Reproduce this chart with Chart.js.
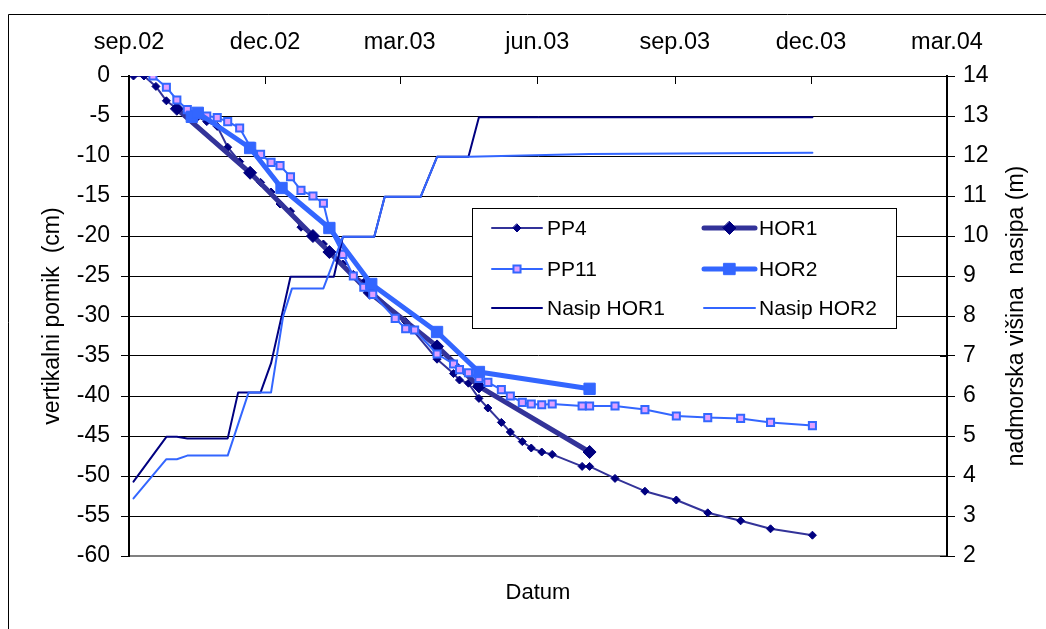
<!DOCTYPE html>
<html><head><meta charset="utf-8">
<script src="https://cdn.jsdelivr.net/npm/chart.js@4.4.1/dist/chart.umd.min.js"></script>
<style>html,body{margin:0;padding:0;background:#fff}canvas{display:block}</style>
</head><body>
<canvas id="c" width="1046" height="629"></canvas>
<script>
// Dates are expressed as days since 1 Sep 2002
const tickDays = [0, 91, 181, 273, 365, 456, 547];
const tickLabels = ['sep.02', 'dec.02', 'mar.03', 'jun.03', 'sep.03', 'dec.03', 'mar.04'];

const pp4Days = [3,10,18,25,32,39,46,52,59,66,74,81,88,95,101,108,115,123,130,134,143,150,157,163,185,206,217,221,227,234,240,249,255,263,269,276,283,303,308,325,345,366,387,409,429,457];
const pp4Values = [0,0,-1.3,-3.1,-4.1,-4.7,-5.1,-5.7,-6.3,-8.9,-10.7,-12.1,-13.3,-14.5,-16.0,-16.9,-18.9,-20.0,-21.0,-22.0,-23.5,-24.8,-25.8,-27.0,-30.7,-35.4,-37.2,-38.0,-38.4,-40.3,-41.5,-43.3,-44.5,-45.7,-46.5,-47.0,-47.3,-48.8,-48.8,-50.3,-51.9,-53.0,-54.6,-55.6,-56.6,-57.4];

const hor1Days = [32,81,123,134,161,206,234,308];
const hor1Values = [-4.1,-12.1,-20.0,-22.0,-27.1,-33.8,-38.8,-47.0];

const pp11Days = [16,25,32,39,46,52,59,66,74,81,88,95,101,108,115,123,130,134,143,150,157,163,178,185,191,206,217,221,227,234,240,249,255,263,269,276,283,303,308,325,345,366,387,409,429,457];
const pp11Values = [0,-1.4,-3.0,-4.2,-4.6,-5.0,-5.2,-5.7,-6.5,-8.8,-9.8,-10.8,-11.2,-12.6,-14.3,-15.0,-15.9,-19.0,-22.3,-25.0,-26.4,-27.3,-30.3,-31.6,-31.75,-34.75,-36.0,-36.7,-37.1,-37.8,-38.3,-39.2,-40.0,-40.8,-41.0,-41.1,-41.0,-41.25,-41.25,-41.25,-41.7,-42.5,-42.7,-42.8,-43.3,-43.7];

const hor2Days = [42,46,81,102,134,162,206,234,308];
const hor2Values = [-5.1,-4.6,-9.0,-14.0,-19.0,-26.0,-32.0,-37.0,-39.1];

const nasip1Days = [3,25,32,39,66,73,88,95,108,137,143,164,171,195,206,227,234,457];
const nasip1Values = [3.86,4.98,4.98,4.94,4.94,6.09,6.09,6.82,8.98,8.98,9.98,9.98,10.98,10.98,11.98,11.98,12.97,12.97];

const nasip2Days = [3,25,32,39,66,80,95,103,109,130,143,164,171,195,206,227,308,457];
const nasip2Values = [3.44,4.42,4.42,4.51,4.51,6.09,6.09,7.98,8.69,8.69,9.98,9.98,10.98,10.98,11.98,11.98,12.05,12.08];

const seriesNames = ['PP4', 'HOR1', 'PP11', 'HOR2', 'Nasip HOR1', 'Nasip HOR2'];

function pts(days, vals) { return days.map((d, i) => ({x: d, y: vals[i]})); }

const FONT = '"Liberation Sans", Arial, sans-serif';
Chart.defaults.font.family = FONT;
Chart.defaults.color = '#000';

function marker(ctx, style, r, x, y, fill, stroke, bw) {
  ctx.save();
  ctx.beginPath();
  if (style === 'rectRot') {
    ctx.moveTo(x, y - r); ctx.lineTo(x + r, y); ctx.lineTo(x, y + r); ctx.lineTo(x - r, y); ctx.closePath();
  } else {
    const s = r * Math.SQRT1_2;
    ctx.rect(x - s, y - s, 2 * s, 2 * s);
  }
  ctx.fillStyle = fill; ctx.fill();
  if (bw > 0) { ctx.strokeStyle = stroke; ctx.lineWidth = bw; ctx.stroke(); }
  ctx.restore();
}

const decorPlugin = {
  id: 'decor',
  beforeDraw(chart) {
    const c = chart.ctx;
    c.save();
    c.fillStyle = '#fff'; c.fillRect(0, 0, chart.width, chart.height);
    c.strokeStyle = '#000'; c.lineWidth = 1;
    c.beginPath(); c.moveTo(8.5, chart.height + 5); c.lineTo(8.5, 14.5); c.lineTo(chart.width + 5, 14.5); c.stroke();
    c.restore();
  },
  afterDraw(chart) {
    const c = chart.ctx, a = chart.chartArea;
    c.save();
    // inner ticks of top axis
    const xs = chart.scales.x2;
    c.strokeStyle = '#000'; c.lineWidth = 1;
    c.beginPath();
    tickDays.forEach(d => { const px = Math.round(xs.getPixelForValue(d)) + 0.5; c.moveTo(px, a.top); c.lineTo(px, a.top + 8); });
    // inner ticks of right axis
    const ys = chart.scales.y2;
    ys.ticks.forEach(t => { const py = Math.round(ys.getPixelForValue(t.value)) + 0.5; c.moveTo(a.right - 7, py); c.lineTo(a.right, py); });
    c.stroke();
    // right axis title (reads bottom to top)
    c.save();
    c.translate(1017, (a.top + a.bottom) / 2);
    c.rotate(-Math.PI / 2);
    c.font = '23px ' + FONT; c.fillStyle = '#000'; c.textAlign = 'center'; c.textBaseline = 'middle';
    c.fillText('nadmorska višina  nasipa (m)', 0, 0);
    c.restore();
    // legend
    const bx = 472.5, by = 208.5, bw = 424, bh = 120;
    c.fillStyle = '#fff'; c.fillRect(bx, by, bw, bh);
    c.strokeStyle = '#000'; c.lineWidth = 1; c.strokeRect(bx, by, bw, bh);
    const cols = [{x0: 492, x1: 542, tx: 547}, {x0: 704, x1: 755, tx: 759}];
    const rows = [228, 269, 308];
    chart.data.datasets.forEach((d, i) => {
      const col = cols[i % 2], y = rows[Math.floor(i / 2)];
      c.strokeStyle = d.borderColor; c.lineWidth = d.borderWidth; c.lineCap = 'round';
      c.beginPath(); c.moveTo(col.x0, y); c.lineTo(col.x1, y); c.stroke();
      if (d.pointRadius > 0) {
        marker(c, d.pointStyle, d.legendRadius, (col.x0 + col.x1) / 2, y, d.pointBackgroundColor, d.pointBorderColor, d.pointBorderWidth);
      }
      c.font = '21px ' + FONT; c.fillStyle = '#000'; c.textAlign = 'left'; c.textBaseline = 'middle';
      c.fillText(d.label, col.tx, y + 1);
    });
    c.restore();
  }
};

const common = {tension: 0, borderJoinStyle: 'round', borderCapStyle: 'round', fill: false};

const datasets = [
  Object.assign({}, common, {label: seriesNames[0], data: pts(pp4Days, pp4Values), xAxisID: 'x', yAxisID: 'y',
    borderColor: '#333399', borderWidth: 2, pointStyle: 'rectRot', pointRadius: 4, legendRadius: 4,
    pointBackgroundColor: '#000080', pointBorderColor: '#000080', pointBorderWidth: 1, order: 5}),
  Object.assign({}, common, {label: seriesNames[1], data: pts(hor1Days, hor1Values), xAxisID: 'x', yAxisID: 'y',
    borderColor: '#333399', borderWidth: 5, pointStyle: 'rectRot', pointRadius: 6.5, legendRadius: 6.5,
    pointBackgroundColor: '#000080', pointBorderColor: '#000080', pointBorderWidth: 1, order: 4}),
  Object.assign({}, common, {label: seriesNames[2], data: pts(pp11Days, pp11Values), xAxisID: 'x', yAxisID: 'y',
    borderColor: '#3366FF', borderWidth: 2, pointStyle: 'rect', pointRadius: 5, legendRadius: 5,
    pointBackgroundColor: '#E0A0FF', pointBorderColor: '#3366FF', pointBorderWidth: 2, order: 3}),
  Object.assign({}, common, {label: seriesNames[3], data: pts(hor2Days, hor2Values), xAxisID: 'x', yAxisID: 'y',
    borderColor: '#3366FF', borderWidth: 5, pointStyle: 'rect', pointRadius: 8, legendRadius: 8,
    pointBackgroundColor: '#3366FF', pointBorderColor: '#3366FF', pointBorderWidth: 1, order: 2}),
  Object.assign({}, common, {label: seriesNames[4], data: pts(nasip1Days, nasip1Values), xAxisID: 'x', yAxisID: 'y2',
    borderColor: '#000080', borderWidth: 2, pointRadius: 0, order: 1}),
  Object.assign({}, common, {label: seriesNames[5], data: pts(nasip2Days, nasip2Values), xAxisID: 'x', yAxisID: 'y2',
    borderColor: '#3366FF', borderWidth: 2, pointRadius: 0, order: 0})
];

new Chart(document.getElementById('c'), {
  type: 'line',
  data: {datasets},
  plugins: [decorPlugin],
  options: {
    responsive: false, animation: false, devicePixelRatio: 1,
    layout: {padding: 0},
    plugins: {legend: {display: false}, tooltip: {enabled: false}},
    scales: {
      x: {
        type: 'linear', position: 'bottom', min: 0, max: 547,
        ticks: {display: false},
        grid: {display: false},
        border: {display: true, color: '#808080', width: 2},
        title: {display: true, text: 'Datum', font: {size: 22}, padding: {top: 0, bottom: 23}},
        afterFit: s => { s.height = 73; }
      },
      x2: {
        type: 'linear', position: 'top', min: 0, max: 547,
        afterBuildTicks: s => { s.ticks = tickDays.map(v => ({value: v})); },
        ticks: {font: {size: 23.5}, padding: 11, maxRotation: 0, autoSkip: false,
          callback: v => { const i = tickDays.indexOf(v); return i >= 0 ? tickLabels[i] : ''; }},
        grid: {display: false},
        border: {display: true, color: '#000', width: 1},
        afterFit: s => { s.height = 76; }
      },
      y: {
        type: 'linear', position: 'left', min: -60, max: 0,
        ticks: {stepSize: 5, font: {size: 23}, padding: 11},
        grid: {color: c => (c.tick && c.tick.value === -60) ? 'rgba(0,0,0,0)' : '#000', tickColor: '#000', lineWidth: 1, tickLength: 8},
        border: {display: true, color: '#000', width: 2},
        title: {display: true, text: 'vertikalni pomik  (cm)', font: {size: 23}, padding: {top: 39, bottom: 0}},
        afterFit: s => { s.width = 129; }
      },
      y2: {
        type: 'linear', position: 'right', min: 2, max: 14,
        ticks: {stepSize: 1, font: {size: 23}, padding: 8},
        grid: {drawOnChartArea: false, color: '#000', tickColor: '#000', tickLength: 8},
        border: {display: true, color: '#000', width: 2},
        afterFit: s => { s.width = 99; }
      }
    }
  }
});
</script>
</body></html>
